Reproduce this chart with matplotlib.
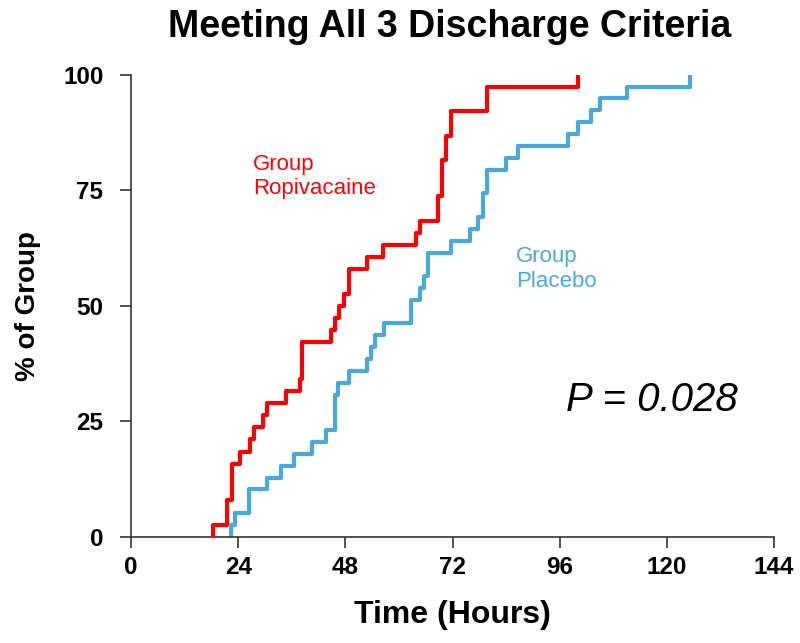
import numpy as np
import matplotlib
matplotlib.use("Agg")
import matplotlib.pyplot as plt

plt.rcParams['font.family'] = ['Liberation Sans', 'DejaVu Sans']

# Data (time in hours, cumulative % of group)
ropi_t = [18.4, 21.4, 22.5, 24.4, 26.6, 27.4, 29.5, 30.5, 34.6, 37.8, 38.3,
          44.7, 45.7, 46.6, 47.7, 48.7, 52.8, 56.5, 63.8, 64.6, 68.8, 69.6,
          70.5, 71.6, 79.8, 100.0]
ropi_y = [2.6, 7.9, 15.8, 18.4, 21.1, 23.7, 26.3, 28.9, 31.6, 34.2, 42.1,
          44.7, 47.4, 50.0, 52.6, 57.9, 60.5, 63.2, 65.8, 68.4, 73.7, 81.6,
          86.8, 92.1, 97.4, 100.0]

plac_t = [22.3, 23.3, 26.5, 30.5, 33.5, 36.5, 40.6, 43.6, 45.7, 46.4, 48.7,
          52.8, 53.7, 54.6, 56.7, 62.7, 64.7, 65.7, 66.6, 71.6, 75.8, 77.8,
          78.8, 79.8, 84.0, 86.7, 97.9, 100.2, 103.0, 105.0, 111.0, 125.2]
plac_y = [2.6, 5.1, 10.3, 12.8, 15.4, 17.9, 20.5, 23.1, 30.8, 33.3, 35.9,
          38.5, 41.0, 43.6, 46.2, 51.3, 53.8, 56.4, 61.5, 64.1, 66.7, 69.2,
          74.4, 79.5, 82.1, 84.6, 87.2, 89.7, 92.3, 94.9, 97.4, 100.0]

xticks = [0, 24, 48, 72, 96, 120, 144]
yticks = [0, 25, 50, 75, 100]

red = "#FF0000"
blue = "#4BA8DE"

fig = plt.figure(figsize=(8, 6.43), dpi=100)
ax = fig.add_axes([0.164, 0.165, 0.8035, 0.7185])

# steps start from 0 at the first event
ax.step([ropi_t[0]] + ropi_t, [0] + ropi_y, where="post", color=red, lw=3, zorder=3)
ax.step([plac_t[0]] + plac_t, [0] + plac_y, where="post", color=blue, lw=3, zorder=2)

ax.set_xlim(0, 144)
ax.set_ylim(0, 100)
ax.set_xticks(xticks)
ax.set_yticks(yticks)
ax.spines["top"].set_visible(False)
ax.spines["right"].set_visible(False)
for s in ["left", "bottom"]:
    ax.spines[s].set_linewidth(1.2)
    ax.spines[s].set_color("#333333")
ax.tick_params(axis="both", direction="out", length=8, width=1.2, color="#333333")
for lab in ax.get_xticklabels() + ax.get_yticklabels():
    lab.set_fontweight("bold")
    lab.set_fontsize(17.5)
ax.tick_params(axis="x", pad=6)
ax.tick_params(axis="y", pad=12)

ax.set_xlabel("Time (Hours)", fontsize=23, fontweight="bold", labelpad=15)
ax.set_ylabel("% of Group", fontsize=20, fontweight="bold", labelpad=16)
fig.text(0.5625, 0.958, "Meeting All 3 Discharge Criteria", fontsize=27,
         fontweight="bold", ha="center", va="center")

ax.text(27.3, 78, "Group\nRopivacaine", color=red, fontsize=16, linespacing=1.2,
        va="center", ha="left")
ax.text(86.2, 58, "Group\nPlacebo", color=blue, fontsize=16, linespacing=1.2,
        va="center", ha="left")
ax.text(97.5, 29.6, "P = 0.028", fontsize=29, style="italic", va="center", ha="left")

fig.savefig("out.png", dpi=100)
